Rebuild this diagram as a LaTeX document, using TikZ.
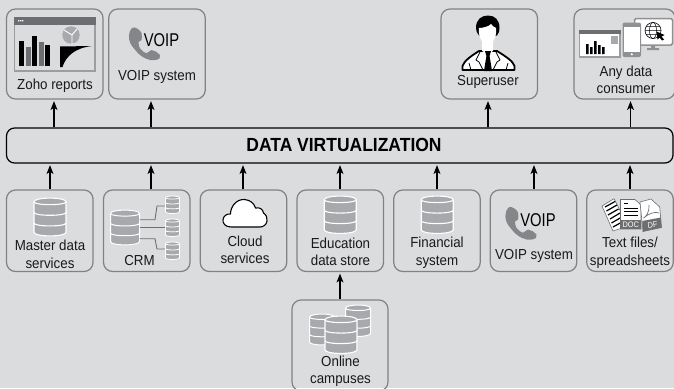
\documentclass[tikz,border=0pt]{standalone}
\usepackage{fontspec}
\setmainfont[FakeStretch=0.92]{Liberation Sans}
\newfontfamily\narrowf[FakeStretch=0.8]{Liberation Sans}
\usetikzlibrary{arrows.meta}
\definecolor{bgc}{HTML}{DBDCDD}
\definecolor{edgec}{HTML}{808285}
\definecolor{midg}{HTML}{A7A9AC}
\definecolor{darkg}{HTML}{6D6E71}
\tikzset{
  box/.style={draw=edgec,line width=1.2pt,rounded corners=9pt,inner sep=0pt},
  barbox/.style={draw=black,line width=1.2pt,rounded corners=8pt,inner sep=0pt},
  lbl/.style={font=\fontsize{14.5}{17.5}\selectfont,align=center,inner sep=0pt,text=black!90},
  arr/.style={line width=1.1pt,-{Stealth[length=9pt,width=7pt,inset=2.5pt]}},
  link/.style={draw=darkg,line width=0.9pt},
}
\newcommand{\dbicon}[5]{%
\begin{scope}[shift={(#1,#2)},x=#3pt,y=-#4pt]
 \draw[white,fill=midg,line width=#5pt] (-.5,.1) .. controls (-.5,-.03) and (.5,-.03) .. (.5,.1) -- (.5,.9) .. controls (.5,1.03) and (-.5,1.03) .. (-.5,.9) -- cycle;
 \draw[white,line width=#5pt] (-.5,.1) .. controls (-.5,.2) and (.5,.2) .. (.5,.1);
 \draw[white,line width=#5pt] (-.5,.38) .. controls (-.5,.48) and (.5,.48) .. (.5,.38);
 \draw[white,line width=#5pt] (-.5,.66) .. controls (-.5,.76) and (.5,.76) .. (.5,.66);
\end{scope}}
\newcommand{\phoneicon}[2]{%
\begin{scope}[shift={(#1,#2)}]
 \fill[darkg!60!midg] (133,27.5) .. controls (136,27) and (140,30) .. (141.5,33) .. controls (142,36) and (142,38) .. (141.5,40) -- (138.5,42)
 .. controls (138.5,44) and (139,46.5) .. (140,48.5) .. controls (142,51) and (144,52.5) .. (146.5,53.3) -- (151.5,50)
 .. controls (155,50.5) and (158,52.5) .. (160,55) .. controls (160.3,56.5) and (160,57.5) .. (159.5,58.5)
 .. controls (156,60.5) and (153,60.5) .. (150,60) .. controls (144,58.5) and (140,55.5) .. (136.7,51.7)
 .. controls (133,47.5) and (130,44) .. (129.3,40) .. controls (128.6,36) and (129,33) .. (130,31) .. controls (131,29) and (132,28) .. (133,27.5) -- cycle;
\end{scope}}
\begin{document}
\begin{tikzpicture}[x=1pt,y=-1pt]
\useasboundingbox (0,0) rectangle (674,388);
\clip (0,0) rectangle (674,388);
\fill[bgc] (0,0) rectangle (674,388);

% boxes
\node[box,minimum width=96.5pt,minimum height=90pt] (zoho) at (54.75,54) {};
\node[box,minimum width=96.5pt,minimum height=90pt] (voipT) at (157,54) {};
\node[box,minimum width=96.5pt,minimum height=90pt] (super) at (489.25,54) {};
\node[box,minimum width=101pt,minimum height=90pt] (any) at (624.5,54) {};
\node[barbox,minimum width=666.5pt,minimum height=35pt] (bar) at (339.75,145.5) {};
\node[box,minimum width=86.5pt,minimum height=81.5pt] (master) at (49.75,230.75) {};
\node[box,minimum width=86.5pt,minimum height=81.5pt] (crm) at (146.75,230.75) {};
\node[box,minimum width=86.5pt,minimum height=81.5pt] (cloud) at (243.5,230.75) {};
\node[box,minimum width=86.5pt,minimum height=81.5pt] (edu) at (340.25,230.75) {};
\node[box,minimum width=86.5pt,minimum height=81.5pt] (fin) at (437,230.75) {};
\node[box,minimum width=86.5pt,minimum height=81.5pt] (voipB) at (533.5,230.75) {};
\node[box,minimum width=86.5pt,minimum height=81.5pt] (text) at (630,230.75) {};
\node[box,minimum width=96pt,minimum height=91pt] (online) at (340,345.5) {};

% labels
\node[lbl] (lzoho) at (55,85.5) {Zoho reports};
\node[lbl] (lvoipT) at (157,77) {VOIP system};
\node[lbl] (lsuper) at (488,82) {Superuser};
\node[lbl] (lany) at (626,80) {Any data\\consumer};
\node[font=\bfseries\fontsize{19}{20}\selectfont,inner sep=0pt] (title) at (344,145) {DATA VIRTUALIZATION};
\node[lbl] (lmaster) at (50,254.5) {Master data\\services};
\node[lbl] (lcrm) at (139.5,260.5) {CRM};
\node[lbl] (lcloud) at (245,250) {Cloud\\services};
\node[lbl] (ledu) at (340.5,252) {Education\\data store};
\node[lbl] (lfin) at (437,252.5) {Financial\\system};
\node[lbl] (lvoipB) at (534,256) {VOIP system};
\node[lbl] (ltext) at (630,252.5) {Text files/\\spreadsheets};
\node[lbl] (lonline) at (340.5,371) {Online\\campuses};

% connectors
\foreach \n/\xx in {a1/54,a2/151,a3/488,a4/630.5,b1/50,b2/151,b3/243,b4/340,b5/437,b6/534,b7/630}
  \coordinate (\n) at (\xx,0);
\draw[arr,shorten >=1.5pt] (bar.north -| a1) -- (zoho.south -| a1);
\draw[arr,shorten >=1.5pt] (bar.north -| a2) -- (voipT.south -| a2);
\draw[arr,shorten >=1.5pt] (bar.north -| a3) -- (super.south -| a3);
\draw[arr,shorten >=1.5pt] (bar.north -| a4) -- (any.south -| a4);
\draw[arr,shorten >=1.5pt] (master.north -| b1) -- (bar.south -| b1);
\draw[arr,shorten >=1.5pt] (crm.north -| b2) -- (bar.south -| b2);
\draw[arr,shorten >=1.5pt] (cloud.north -| b3) -- (bar.south -| b3);
\draw[arr,shorten >=1.5pt] (edu.north -| b4) -- (bar.south -| b4);
\draw[arr,shorten >=1.5pt] (fin.north -| b5) -- (bar.south -| b5);
\draw[arr,shorten >=1.5pt] (voipB.north -| b6) -- (bar.south -| b6);
\draw[arr,shorten >=1.5pt] (text.north -| b7) -- (bar.south -| b7);
\draw[arr,shorten >=1.5pt] (online.north -| b4) -- (edu.south -| b4);

% Zoho icon
\draw[midg!80!darkg,line width=1.2pt] (14.5,17.5) rectangle (95,71);
\fill[darkg] (14,17) rectangle (95.5,25);
\fill[white] (18,20.2) rectangle (19.3,21.4) (20,20.2) rectangle (21.3,21.4) (22,20.2) rectangle (23.3,21.4);
\fill[black] (19,41) rectangle (24,66);
\fill[darkg] (26,47) rectangle (31,66);
\fill[black] (32,36) rectangle (37,66);
\fill[darkg] (39,42) rectangle (44,66);
\fill[black] (45,45) rectangle (50,66);
\fill[midg] (71,35) circle (8.7);
\draw[white,line width=0.9pt] (72,35) -- (77,29) (72,35) -- (72,44) (72,35) -- (64,30);
\fill[black] (60,67) -- (60,46.5) -- (92,46) .. controls (75,48) and (66,56) .. (62.5,67) -- cycle;

% VOIP icons
\phoneicon{0}{0}
\node[font=\narrowf\fontsize{18.5}{20}\selectfont,inner sep=0pt] (vt) at (161.5,40.5) {VOIP};
\phoneicon{376.5}{179.5}
\node[font=\narrowf\fontsize{18.5}{20}\selectfont,inner sep=0pt] (vb) at (538,220) {VOIP};

% Superuser
\draw[black,line width=1.8pt,fill=white,line join=round] (462.5,70) -- (462.5,66) .. controls (464,61) and (471,56) .. (479,51) -- (497,51) .. controls (505,56) and (513,61) .. (514.5,66) -- (514.5,70) -- cycle;
\draw[black,line width=0.8pt] (480,52) -- (476,60) -- (479,62) -- (483,70) (496,52) -- (500,60) -- (497,62) -- (493,70) (469,63) -- (471,70) (508,63) -- (506,70);
\fill[black] (476,28) .. controls (476,19) and (482,15.5) .. (488,15.5) .. controls (495,15.5) and (499.5,20) .. (499.5,28) .. controls (499.5,31) and (499,33) .. (497,35.5) -- (479,35.5) .. controls (477,33) and (476,31) .. (476,28) -- cycle;
\fill[white] (478.8,28) .. controls (483,28) and (489,26.5) .. (491,24) .. controls (492,26) and (495,27.5) .. (496.2,28) .. controls (496.8,37) and (492.5,45) .. (487.5,45) .. controls (482.5,45) and (478.2,37) .. (478.8,28) -- cycle;
\fill[white] (482,41) -- (493,41) -- (493,51) -- (488,54) -- (482,51) -- cycle;
\fill[black] (485,51) -- (491,51) -- (489.6,56) -- (492,71) -- (484,71) -- (486.4,56) -- cycle;

% any data consumer
\draw[midg!80!darkg,line width=1.2pt,fill=white] (579.5,30.5) rectangle (620,57);
\fill[darkg] (579,30) rectangle (620.5,34);
\fill[midg] (611,36) rectangle (617.5,44);
\fill[black] (586,44) rectangle (588.5,54) (590,47) rectangle (592.5,54) (594,41) rectangle (596.5,54) (598,45) rectangle (600.5,54) (602,47) rectangle (604.5,54);
\draw[midg!60!darkg,line width=1.5pt,fill=white,rounded corners=1.5pt] (634.5,18.5) rectangle (672.5,45);
\fill[midg!60!darkg] (651,45) rectangle (655,49) (647,48) rectangle (659,50);
\draw[black,line width=0.6pt] (653,30.5) circle (8);
\draw[black,line width=0.5pt] (653,30.5) ellipse (3.5 and 8) (645,30.5) -- (661,30.5) (646,26.5) -- (660,26.5) (646,34.5) -- (660,34.5);
\fill[black] (656.5,31.5) -- (664.5,35) -- (661.5,36.5) -- (664,39.5) -- (662,40.5) -- (659.5,37.5) -- (657.5,39.5) -- cycle;
\fill[midg!60!darkg,rounded corners=2pt] (622.5,22.5) rectangle (641,57);
\fill[white] (624,27) rectangle (639.5,51.5);
\fill[white] (631.8,54.3) circle (1.2);

% Database icons
\dbicon{50}{198}{32}{38}{1.1}
\dbicon{340.2}{196}{32}{37.5}{1.1}
\dbicon{437.2}{196}{32}{37.5}{1.1}
\dbicon{125}{210}{29}{35}{1}
\coordinate (c0a) at (139.5,219.7);
\coordinate (c0b) at (139.5,227);
\coordinate (c0c) at (139.5,238.7);
\coordinate (c1) at (166,206);
\coordinate (c2) at (166,227);
\coordinate (c3) at (166,249);
\draw[link] (c0a) -- (155,219.7) -- (157,206) -- (c1);
\draw[link] (c0b) -- (c2);
\draw[link] (c0c) -- (155,238.7) -- (157,249) -- (c3);
\dbicon{172.5}{196}{14}{17.5}{0.8}
\dbicon{172.5}{219}{14}{17.5}{0.8}
\dbicon{172.5}{242}{14}{17.5}{0.8}
\dbicon{358}{305}{25}{31.5}{1}
\dbicon{322}{314}{25}{31}{1}
\dbicon{341}{316}{32}{37.5}{1.1}

% Cloud
\draw[black,line width=1.1pt,fill=white,line join=round] (231,227) .. controls (225,227) and (222.5,223) .. (223,219.5) .. controls (223.5,216) and (227,213.5) .. (230.5,214)
 .. controls (230.5,207) and (236,199) .. (244.5,199.5) .. controls (250,200) and (254,203) .. (255.5,208)
 .. controls (260,207) and (263,209.5) .. (263.5,213) .. controls (266.5,215) and (267.5,218) .. (267,221) .. controls (266.5,225) and (263,227) .. (260,227) -- cycle;

% Text files icon
\draw[darkg,fill=white,line width=0.6pt] (602,206) -- (614,198.7) -- (628,226) -- (613,231) -- cycle;
\draw[black,line width=1.2pt] (605,207) -- (615,201.5) (606.5,211) -- (617,205) (608,215) -- (618.5,209) (610,219) -- (620,213) (611.5,223) -- (621,217.5) (613,227) -- (622,222);
\draw[darkg,fill=white,line width=0.6pt] (620.5,199.5) -- (635,199.5) -- (641,205) -- (641,229) -- (620.5,229) -- cycle;
\fill[darkg] (620.5,220) rectangle (641,229);
\draw[black,line width=0.9pt] (624,203) -- (628,203) (624,208) -- (638,208) (624,211.5) -- (638,211.5) (624,215) -- (638,215);
\node[font=\fontsize{8}{8}\selectfont,text=white,inner sep=0pt] (doc) at (630.7,224.7) {DOC};
\draw[darkg,fill=white,line width=0.6pt] (640,202) -- (651,199) -- (659.7,207) -- (661.5,227.5) -- (643,231.5) -- cycle;
\fill[darkg] (642.3,221) -- (660.8,217.5) -- (661.5,227.5) -- (643,231.5) -- cycle;
\draw[darkg,line width=0.7pt] (649,205) .. controls (650,212) and (645,218) .. (643.5,218) .. controls (648,214) and (655,211) .. (659,213);
\node[font=\fontsize{8}{8}\selectfont,text=white,inner sep=0pt,rotate=8] (df) at (652.5,225) {DF};
\end{tikzpicture}
\end{document}
